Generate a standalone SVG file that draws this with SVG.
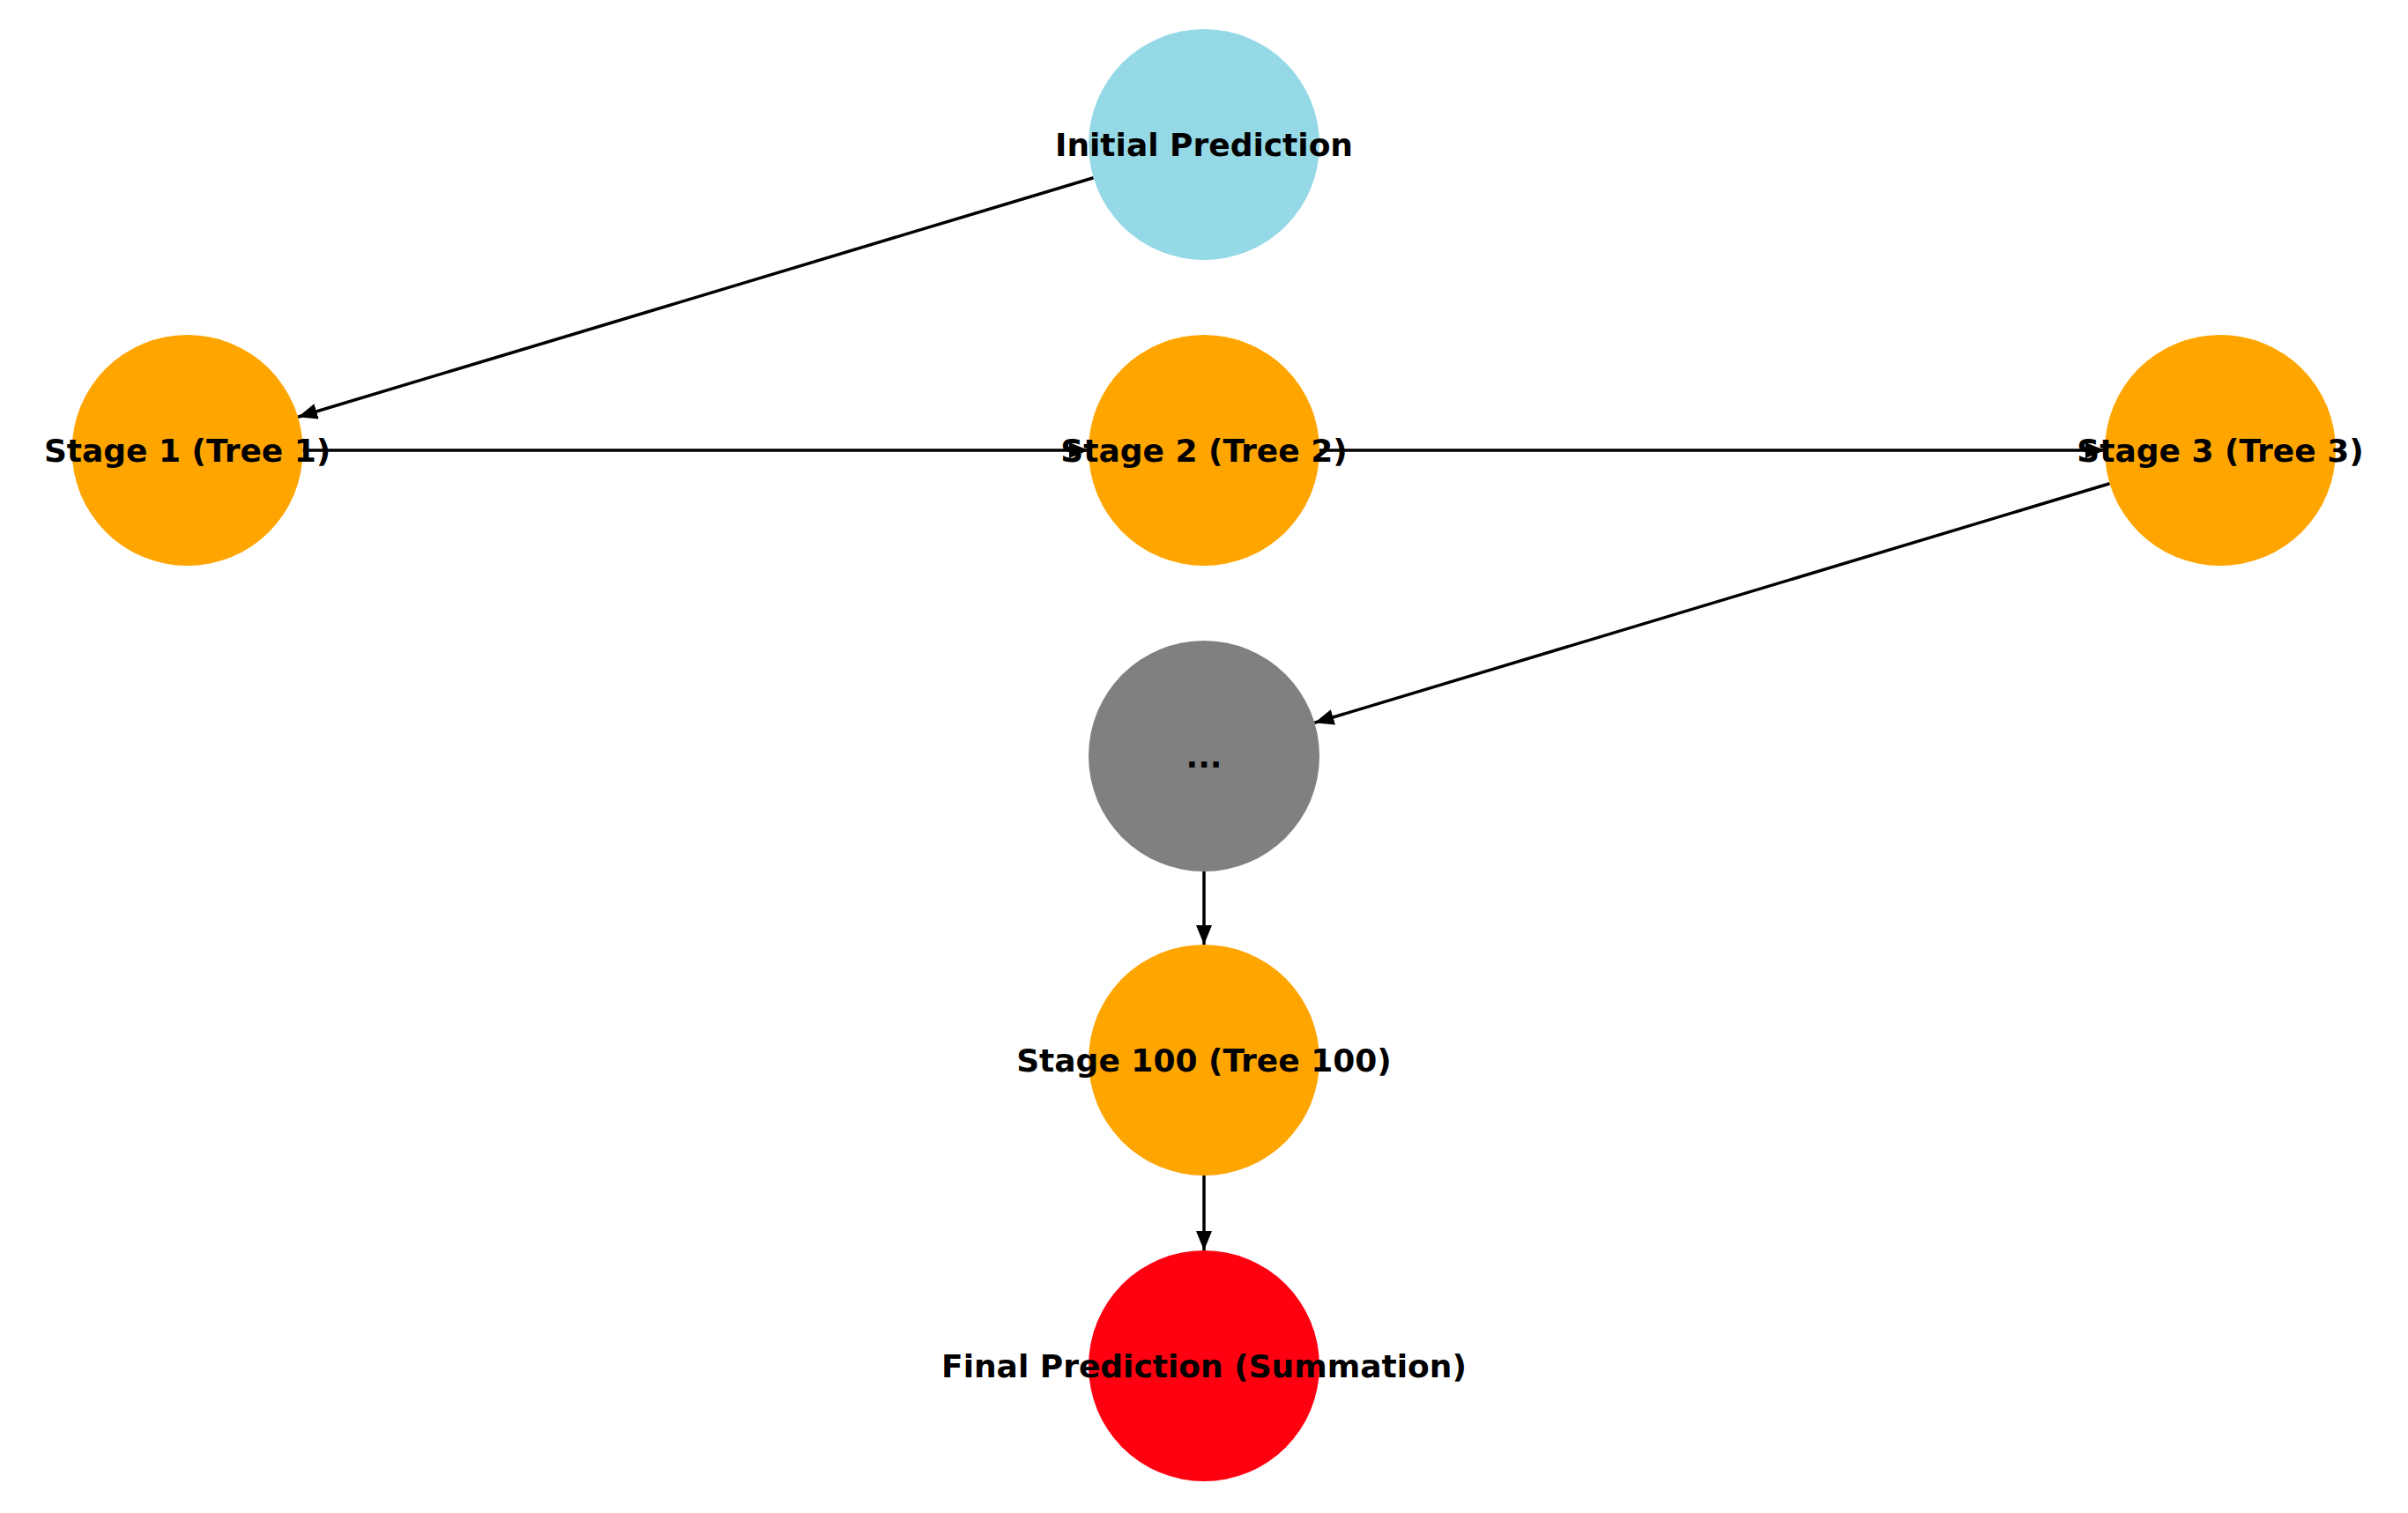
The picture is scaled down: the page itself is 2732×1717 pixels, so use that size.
<svg xmlns="http://www.w3.org/2000/svg" width="2732" height="1717" viewBox="0 0 2732 1717">
<style>
.lbl{font-family:"DejaVu Sans",sans-serif;font-weight:bold;font-size:36px;fill:#000;text-anchor:middle;dominant-baseline:central}
.e{stroke:#000;stroke-width:3.5;fill:none;marker-end:url(#ah)}
</style>
<defs>
<marker id="ah" markerUnits="userSpaceOnUse" markerWidth="24" markerHeight="18" refX="22" refY="9" orient="auto"><path d="M0,0 L22,9 L0,18 Z" fill="#000"/></marker>
</defs>
<rect width="2732" height="1717" fill="#fff"/>
<g id="connectors">
<line class="e" x1="1240.6" y1="201.7" x2="338" y2="473.3"/>
<line class="e" x1="343.6" y1="511" x2="1235" y2="511"/>
<line class="e" x1="1497" y1="511" x2="2388" y2="511"/>
<line class="e" x1="2393.6" y1="548.7" x2="1491.4" y2="820.3"/>
<line class="e" x1="1366" y1="989" x2="1366" y2="1072"/>
<line class="e" x1="1366" y1="1334" x2="1366" y2="1419"/>
</g>
<g id="initial"><circle cx="1366" cy="164" r="131" fill="#95d9e6"/><text class="lbl" x="1366" y="164">Initial Prediction</text></g>
<g id="stage1"><circle cx="212.6" cy="511" r="131" fill="#ffa500"/><text class="lbl" x="212.6" y="511">Stage 1 (Tree 1)</text></g>
<g id="stage2"><circle cx="1366" cy="511" r="131" fill="#ffa500"/><text class="lbl" x="1366" y="511">Stage 2 (Tree 2)</text></g>
<g id="stage3"><circle cx="2519" cy="511" r="131" fill="#ffa500"/><text class="lbl" x="2519" y="511">Stage 3 (Tree 3)</text></g>
<g id="dots"><circle cx="1366" cy="858" r="131" fill="#808080"/><text class="lbl" x="1366" y="858">...</text></g>
<g id="stage100"><circle cx="1366" cy="1203" r="131" fill="#ffa500"/><text class="lbl" x="1366" y="1203">Stage 100 (Tree 100)</text></g>
<g id="final"><circle cx="1366" cy="1550" r="131" fill="#ff0010"/><text class="lbl" x="1366" y="1550">Final Prediction (Summation)</text></g>
</svg>
